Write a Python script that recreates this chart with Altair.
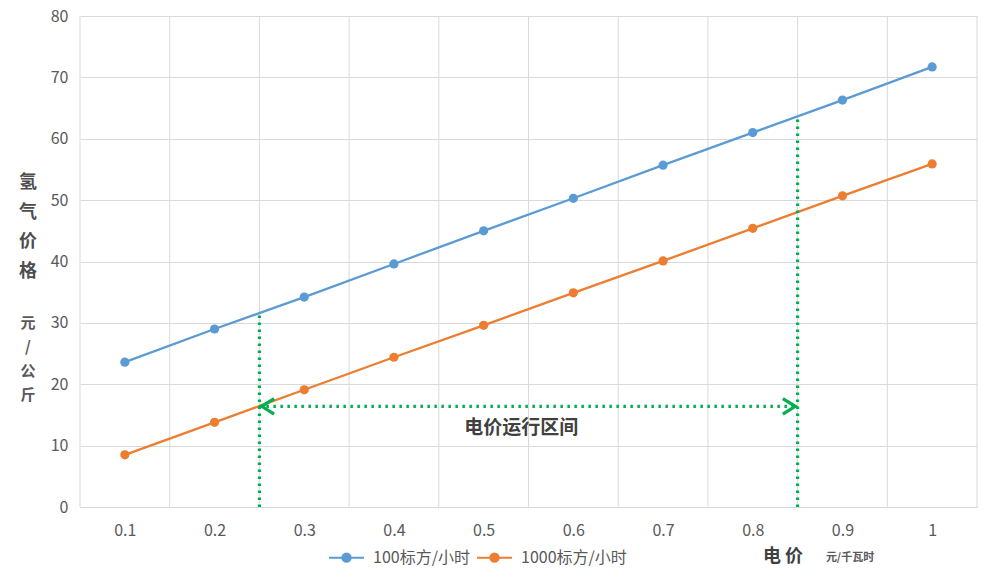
import altair as alt
import pandas as pd

# ---------------- data ----------------
prices = [0.1, 0.2, 0.3, 0.4, 0.5, 0.6, 0.7, 0.8, 0.9, 1.0]
series_names = ["100标方/小时", "1000标方/小时"]
h2_100 = [23.6, 29.0, 34.2, 39.6, 45.0, 50.3, 55.7, 61.0, 66.3, 71.7]
h2_1000 = [8.5, 13.8, 19.1, 24.4, 29.6, 34.9, 40.1, 45.4, 50.7, 55.9]
grid_x = [0.05, 0.15, 0.25, 0.35, 0.45, 0.55, 0.65, 0.75, 0.85, 0.95, 1.05]
y_ticks = [0, 10, 20, 30, 40, 50, 60, 70, 80]
range_x = [0.25, 0.85]
range_top = [31.6, 63.6]
arrow_y = 16.4
range_label = "电价运行区间"
range_label_x = 0.542
range_label_y = 12.9
y_title_main = "氢\n气\n价\n格"
y_title_unit = "元\n/\n公\n斤"
x_title_main = "电 价"
x_title_unit = "元/千瓦时"

colors = ["#5B9BD5", "#ED7D31"]
green = "#00B050"
FONT = "Noto Sans CJK SC"

df = pd.DataFrame({
    "price": prices * 2,
    "series": [series_names[0]] * len(prices) + [series_names[1]] * len(prices),
    "value": h2_100 + h2_1000,
})

W, H = 897, 491

xscale = alt.Scale(domain=[0.05, 1.05], nice=False, zero=False)
yscale = alt.Scale(domain=[0, 80], nice=False)
X_AX = alt.Axis(values=prices, format=".1~f", grid=False, ticks=False, domain=True,
                domainColor="#d9d9d9", labelPadding=15, labelFontSize=16,
                labelColor="#595959", labelFont=FONT, title=None)
Y_AX = alt.Axis(values=y_ticks, grid=True, gridColor="#d9d9d9", domain=False, ticks=False,
                labelPadding=12, labelFontSize=16, labelColor="#595959", labelFont=FONT,
                title=None)

legend = alt.Legend(
    title=None, orient="none", legendX=248, legendY=523, direction="horizontal",
    symbolType="M-1,0L1,0M-0.24,0A0.24,0.24 0 1,1 0.24,0A0.24,0.24 0 1,1 -0.24,0Z",
    symbolSize=1225, symbolStrokeWidth=2, labelFontSize=16, labelColor="#595959",
    labelFont=FONT, labelOffset=8, columnPadding=3, symbolOpacity=1,
)
color = alt.Color("series:N", scale=alt.Scale(domain=series_names, range=colors),
                  sort=series_names, legend=legend)

grid = alt.Chart(pd.DataFrame({"gx": grid_x})).mark_rule(color="#d9d9d9", strokeWidth=1).encode(
    x=alt.X("gx:Q", scale=xscale, axis=X_AX)
)

lines = alt.Chart(df).mark_line(strokeWidth=2.3).encode(
    x=alt.X("price:Q", scale=xscale, axis=X_AX),
    y=alt.Y("value:Q", scale=yscale, axis=Y_AX),
    color=color,
)
points = alt.Chart(df).mark_point(filled=True, size=85, opacity=1).encode(
    x=alt.X("price:Q", scale=xscale, axis=X_AX),
    y=alt.Y("value:Q", scale=yscale, axis=Y_AX),
    color=color,
)

vdf = pd.DataFrame({"rx": range_x, "ry0": [0, 0], "ry1": range_top})
vrules = alt.Chart(vdf).mark_rule(color=green, strokeWidth=3.2, strokeDash=[2.5, 4.5]).encode(
    x=alt.X("rx:Q", scale=xscale, axis=X_AX),
    y=alt.Y("ry0:Q", scale=yscale, axis=Y_AX),
    y2="ry1:Q",
)

hdf = pd.DataFrame({"x0": [range_x[0]], "x1": [range_x[1]], "ay": [arrow_y]})
hrule = alt.Chart(hdf).mark_rule(color=green, strokeWidth=3.2, strokeDash=[2.5, 4.5]).encode(
    x=alt.X("x0:Q", scale=xscale, axis=X_AX),
    x2="x1:Q",
    y=alt.Y("ay:Q", scale=yscale, axis=Y_AX),
)

adf_l = pd.DataFrame({"ax": [range_x[0]], "ay": [arrow_y]})
adf_r = pd.DataFrame({"ax": [range_x[1]], "ay": [arrow_y]})
arrow_l = alt.Chart(adf_l).mark_point(shape="M1.9,-1L0.3,0L1.9,1", size=240, filled=False,
                                      color=green, strokeWidth=3.2, opacity=1).encode(
    x=alt.X("ax:Q", scale=xscale, axis=X_AX),
    y=alt.Y("ay:Q", scale=yscale, axis=Y_AX),
)
arrow_r = alt.Chart(adf_r).mark_point(shape="M-1.9,-1L-0.3,0L-1.9,1", size=240, filled=False,
                                      color=green, strokeWidth=3.2, opacity=1).encode(
    x=alt.X("ax:Q", scale=xscale, axis=X_AX),
    y=alt.Y("ay:Q", scale=yscale, axis=Y_AX),
)

ldf = pd.DataFrame({"lx": [range_label_x], "ly": [range_label_y], "t": [range_label]})
label = alt.Chart(ldf).mark_text(font=FONT, fontSize=19, fontWeight="bold", color="#404040").encode(
    x=alt.X("lx:Q", scale=xscale, axis=X_AX),
    y=alt.Y("ly:Q", scale=yscale, axis=Y_AX),
    text="t:N",
)

def pixel_text(txt, px, py, size, weight, col, line_h=None, align="center"):
    kw = dict(font=FONT, fontSize=size, fontWeight=weight, color=col, align=align,
              baseline="middle")
    if line_h is not None:
        kw["lineBreak"] = "\n"
        kw["lineHeight"] = line_h
    return alt.Chart(pd.DataFrame({"t": [txt]})).mark_text(**kw).encode(
        x=alt.value(px), y=alt.value(py), text="t:N"
    )

yt1 = pixel_text(y_title_main, -52, 167, 18, "bold", "#4d4d4d", line_h=29.7)
yt2 = pixel_text(y_title_unit, -52, 307, 15, "bold", "#595959", line_h=24)
xt1 = pixel_text(x_title_main, 703, 541, 18, "bold", "#404040")
xt2 = pixel_text(x_title_unit, 770, 542, 11, "bold", "#595959")

chart = alt.layer(
    grid, lines, points, vrules, hrule, arrow_l, arrow_r, label, yt1, yt2, xt1, xt2
).properties(
    width=W, height=H,
    autosize=alt.AutoSizeParams(type="none"),
    padding={"left": 80, "top": 16, "right": 9, "bottom": 71},
    background="white",
).configure_view(stroke=None)

chart.save("out.html", embed_options={"renderer": "svg", "actions": False})
